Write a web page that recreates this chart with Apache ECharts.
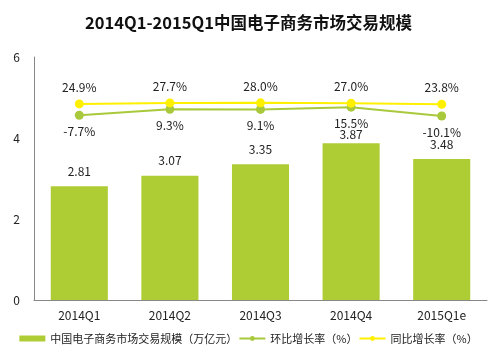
<!DOCTYPE html>
<html>
<head>
<meta charset="utf-8">
<script src="https://cdn.jsdelivr.net/npm/echarts@6/dist/echarts.min.js"></script>
<style>
  html, body { margin: 0; padding: 0; background: #fff; }
  #chart { width: 497px; height: 354px; }
</style>
</head>
<body>
<div id="chart"></div>
<script>
const categories = ["2014Q1", "2014Q2", "2014Q3", "2014Q4", "2015Q1e"];
const scale = [2.81, 3.07, 3.35, 3.87, 3.48];
const qoq = [-7.7, 9.3, 9.1, 15.5, -10.1];
const yoy = [24.9, 27.7, 28.0, 27.0, 23.8];
const yTicks = [0, 2, 4, 6];

const font = "'Noto Sans CJK SC', 'Microsoft YaHei', sans-serif";
const barColor = "#AECD35";
const qoqColor = "#A9C93C";
const yoyColor = "#FFF000";

const chart = echarts.init(document.getElementById("chart"));
chart.setOption({
  animation: false,
  textStyle: { fontFamily: font },
  title: {
    text: "2014Q1-2015Q1中国电子商务市场交易规模",
    left: "center",
    top: 9,
    textStyle: { fontSize: 16.5, fontWeight: "bold", color: "#111", fontFamily: font },
  },
  grid: { left: 34, right: 10, top: 57, bottom: 54 },
  legend: {
    bottom: 5,
    left: "center",
    width: 490,
    itemWidth: 26,
    itemHeight: 6,
    itemGap: 1,
    textStyle: { fontSize: 11, color: "#222", fontFamily: font },
    data: [
      { name: "中国电子商务市场交易规模（万亿元）", icon: "rect" },
      "环比增长率（%）",
      "同比增长率（%）",
    ],
  },
  xAxis: {
    type: "category",
    data: categories,
    axisLine: { lineStyle: { color: "#888" } },
    axisTick: { show: false },
    axisLabel: { color: "#222", fontSize: 12, margin: 9 },
  },
  yAxis: [
    {
      type: "value",
      min: yTicks[0],
      max: yTicks[yTicks.length - 1],
      interval: 2,
      axisLine: { show: true, lineStyle: { color: "#888" } },
      axisTick: { show: false },
      splitLine: { show: false },
      axisLabel: { color: "#222", fontSize: 12, margin: 14 },
    },
    {
      type: "value",
      min: -540,
      max: 160,
      show: false,
      splitLine: { show: false },
    },
  ],
  series: [
    {
      name: "中国电子商务市场交易规模（万亿元）",
      type: "bar",
      barWidth: "63%",
      itemStyle: { color: barColor },
      data: scale.map((v, i) => ({
        value: v,
        label: { distance: i === 3 ? 3 : 9 },
      })),
      label: {
        show: true,
        position: "top",
        fontSize: 12,
        color: "#222",
        formatter: ({ value }) => value.toFixed(2),
      },
    },
    {
      name: "环比增长率（%）",
      type: "line",
      yAxisIndex: 1,
      symbol: "circle",
      symbolSize: 9,
      data: qoq,
      itemStyle: { color: qoqColor },
      lineStyle: { color: qoqColor, width: 2 },
      label: {
        show: true,
        position: "bottom",
        distance: 6,
        fontSize: 12,
        color: "#222",
        formatter: ({ value }) => value.toFixed(1) + "%",
      },
    },
    {
      name: "同比增长率（%）",
      type: "line",
      yAxisIndex: 1,
      symbol: "circle",
      symbolSize: 9,
      data: yoy,
      itemStyle: { color: yoyColor },
      lineStyle: { color: yoyColor, width: 2 },
      label: {
        show: true,
        position: "top",
        distance: 6,
        fontSize: 12,
        color: "#222",
        formatter: ({ value }) => value.toFixed(1) + "%",
      },
    },
  ],
});
</script>
</body>
</html>
